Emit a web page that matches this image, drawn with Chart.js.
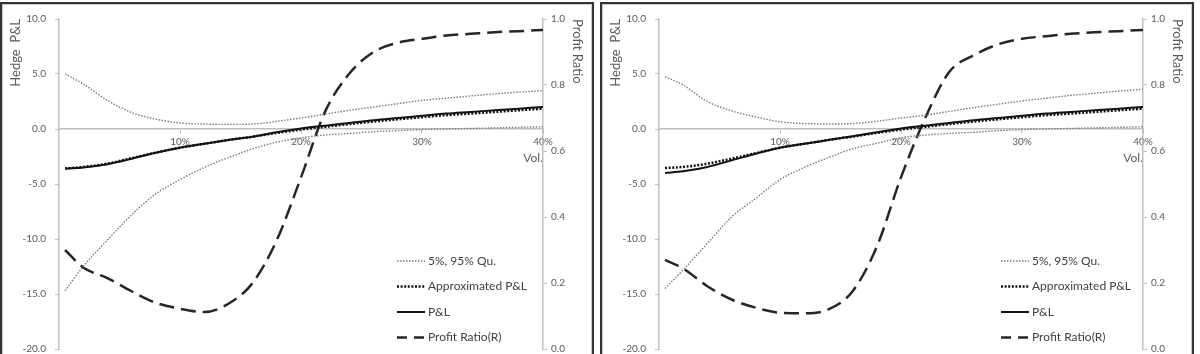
<html>
<head>
    <title>Hedge P&amp;L vs Vol.</title>
    <script src="https://cdn.jsdelivr.net/npm/chart.js"></script>
    <style>
        body {
            margin: 0;
            background: white;
            font-family: Lato, sans-serif;
            overflow: hidden;
        }

        .panel {
            position: absolute;
            top: 2px;
            width: 590px;
            height: 370px;
            border: 2px solid #333;
            box-shadow: inset 0 0 0 1px #c8c8c8;
            background: white;
        }
    </style>
</head>

<body>
    <div class="panel" style="left:0px"><canvas id="chartLeft" width="590" height="370"></canvas></div>
    <div class="panel" style="left:600px"><canvas id="chartRight" width="590" height="370"></canvas></div>

    <script>
        // volatility grid (x axis)
        var vol = [0.005, 0.02, 0.04, 0.06, 0.08, 0.10, 0.12, 0.14, 0.16, 0.18, 0.20,
                   0.22, 0.24, 0.26, 0.28, 0.30, 0.32, 0.34, 0.36, 0.38, 0.40];
        var xTicks = [0.1, 0.2, 0.3, 0.4];

        // left chart
        var upperL  = [5.0, 4.1, 2.6, 1.5, 0.9, 0.55, 0.45, 0.42, 0.45, 0.7, 1.0,
                       1.35, 1.7, 2.0, 2.3, 2.6, 2.8, 3.0, 3.2, 3.35, 3.5];
        var lowerL  = [-14.7, -12.5, -10.1, -7.8, -5.9, -4.6, -3.5, -2.6, -1.8, -1.2, -0.8,
                       -0.55, -0.4, -0.25, -0.15, -0.05, 0.0, 0.05, 0.1, 0.15, 0.2];
        var approxL = [-3.6, -3.45, -3.15, -2.65, -2.15, -1.7, -1.35, -1.0, -0.7, -0.35, -0.05,
                       0.2, 0.45, 0.68, 0.88, 1.07, 1.26, 1.4, 1.55, 1.7, 1.85];
        var pnlL    = [-3.6, -3.5, -3.2, -2.7, -2.15, -1.7, -1.35, -1.0, -0.7, -0.3, 0.05,
                       0.3, 0.55, 0.8, 1.0, 1.2, 1.4, 1.55, 1.7, 1.85, 2.0];
        var ratioL  = [0.30, 0.247, 0.215, 0.175, 0.14, 0.122, 0.112, 0.137, 0.20, 0.33, 0.52,
                       0.72, 0.835, 0.9, 0.928, 0.94, 0.95, 0.955, 0.96, 0.963, 0.967];

        // right chart
        var upperR  = [4.75, 4.0, 2.5, 1.65, 1.1, 0.65, 0.5, 0.45, 0.5, 0.7, 1.0,
                       1.25, 1.6, 1.95, 2.25, 2.55, 2.8, 3.05, 3.25, 3.45, 3.6];
        var lowerR  = [-14.5, -12.8, -10.4, -8.0, -6.3, -4.6, -3.5, -2.6, -1.8, -1.3, -0.8,
                       -0.55, -0.4, -0.3, -0.15, -0.05, 0.0, 0.05, 0.1, 0.15, 0.2];
        var approxR = [-3.55, -3.45, -3.15, -2.7, -2.2, -1.7, -1.35, -1.0, -0.7, -0.35, -0.05,
                       0.2, 0.45, 0.68, 0.88, 1.07, 1.26, 1.4, 1.55, 1.7, 1.85];
        var pnlR    = [-4.0, -3.85, -3.45, -2.85, -2.25, -1.7, -1.35, -1.0, -0.65, -0.3, 0.05,
                       0.3, 0.55, 0.8, 1.0, 1.2, 1.4, 1.55, 1.7, 1.85, 2.0];
        var ratioR  = [0.27, 0.244, 0.19, 0.15, 0.125, 0.11, 0.108, 0.12, 0.175, 0.31, 0.52,
                       0.7, 0.84, 0.89, 0.923, 0.94, 0.948, 0.955, 0.96, 0.963, 0.967];

        var legendNames = ["5%, 95% Qu.", "Approximated P&L", "P&L", "Profit Ratio(R)"];

        var tickColor = "#595959";
        var axisColor = "#bfbfbf";

        function pts(arr) {
            return vol.map(function (v, i) { return { x: v, y: arr[i] }; });
        }

        var quStyle = { borderColor: "#7a7a7a", borderWidth: 1.4, borderDash: [1.5, 1.5] };
        var apStyle = { borderColor: "#111", borderWidth: 2.5, borderDash: [2, 1.6] };
        var plStyle = { borderColor: "#111", borderWidth: 2, borderDash: [] };
        var prStyle = { borderColor: "#262626", borderWidth: 2.5, borderDash: [15, 7] };

        // draws the legend at the lower right of the plot
        var legendPlugin = {
            id: "boxLegend",
            afterDraw: function (chart) {
                var ctx = chart.ctx;
                var area = chart.chartArea;
                var x0 = area.left + chart.options.legendOffset;
                var y0 = area.top + 242;
                var styles = [quStyle, apStyle, plStyle, prStyle];
                ctx.save();
                for (var i = 0; i < legendNames.length; i++) {
                    var y = y0 + i * 25.5;
                    var s = styles[i];
                    ctx.beginPath();
                    ctx.strokeStyle = s.borderColor;
                    ctx.lineWidth = s.borderWidth;
                    ctx.setLineDash(i == 3 ? [10, 7] : s.borderDash);
                    ctx.moveTo(x0, y);
                    ctx.lineTo(x0 + 28, y);
                    ctx.stroke();
                    ctx.setLineDash([]);
                    ctx.fillStyle = "#404040";
                    ctx.font = "12px Lato";
                    ctx.textBaseline = "middle";
                    ctx.fillText(legendNames[i], x0 + 31, y);
                }
                ctx.restore();
            }
        };

        function makeChart(id, upper, lower, approx, pnl, ratio, legendOffset) {
            var ctx = document.getElementById(id).getContext("2d");
            return new Chart(ctx, {
                type: "line",
                data: {
                    datasets: [
                        Object.assign({ label: "95% Qu.", data: pts(upper), yAxisID: "y" }, quStyle),
                        Object.assign({ label: "5% Qu.", data: pts(lower), yAxisID: "y" }, quStyle),
                        Object.assign({ label: "Approximated P&L", data: pts(approx), yAxisID: "y" }, apStyle),
                        Object.assign({ label: "P&L", data: pts(pnl), yAxisID: "y" }, plStyle),
                        Object.assign({ label: "Profit Ratio(R)", data: pts(ratio), yAxisID: "y1" }, prStyle)
                    ]
                },
                options: {
                    responsive: false,
                    animation: false,
                    legendOffset: legendOffset,
                    layout: { padding: { top: 13, bottom: 25, left: 0, right: 0 } },
                    elements: {
                        point: { radius: 0 },
                        line: { cubicInterpolationMode: "monotone", fill: false }
                    },
                    plugins: {
                        legend: { display: false },
                        tooltip: { enabled: false }
                    },
                    scales: {
                        x: {
                            type: "linear",
                            position: { y: 0 },
                            min: 0,
                            max: 0.4,
                            afterBuildTicks: function (scale) {
                                scale.ticks = xTicks.map(function (v) { return { value: v }; });
                            },
                            ticks: {
                                color: tickColor,
                                font: { family: "Lato", size: 10 },
                                padding: 3,
                                maxRotation: 0,
                                callback: function (v) { return Math.round(v * 100) + "%"; }
                            },
                            grid: { drawOnChartArea: false, tickLength: 4, color: axisColor },
                            border: { color: axisColor, width: 1.5 },
                            title: {
                                display: true,
                                text: "Vol.",
                                align: "end",
                                color: tickColor,
                                font: { family: "Lato", size: 12 },
                                padding: { top: 0 }
                            }
                        },
                        y: {
                            position: "left",
                            min: -20,
                            max: 10,
                            ticks: {
                                stepSize: 5,
                                color: tickColor,
                                font: { family: "Lato", size: 10 },
                                padding: 9,
                                callback: function (v) { return v.toFixed(1); }
                            },
                            grid: { drawOnChartArea: false, tickLength: 4, color: axisColor },
                            border: { color: axisColor, width: 1.5 },
                            title: {
                                display: true,
                                text: "Hedge  P&L",
                                align: "end",
                                color: tickColor,
                                font: { family: "Lato", size: 13 },
                                padding: { top: 6, bottom: 0 }
                            },
                            afterFit: function (scale) { scale.width = 57; }
                        },
                        y1: {
                            position: "right",
                            min: 0,
                            max: 1,
                            ticks: {
                                stepSize: 0.2,
                                color: tickColor,
                                font: { family: "Lato", size: 10 },
                                padding: 4,
                                callback: function (v) { return v.toFixed(1); }
                            },
                            grid: { drawOnChartArea: false, tickLength: 4, color: axisColor },
                            border: { color: axisColor, width: 1.5 },
                            title: {
                                display: true,
                                text: "Profit Ratio",
                                align: "end",
                                color: tickColor,
                                font: { family: "Lato", size: 13 },
                                padding: { top: 7, bottom: 4 }
                            },
                            afterFit: function (scale) { scale.width = 49; }
                        }
                    }
                },
                plugins: [legendPlugin]
            });
        }

        makeChart("chartLeft", upperL, lowerL, approxL, pnlL, ratioL, 338);
        makeChart("chartRight", upperR, lowerR, approxR, pnlR, ratioR, 342);
    </script>
</body>
</html>
